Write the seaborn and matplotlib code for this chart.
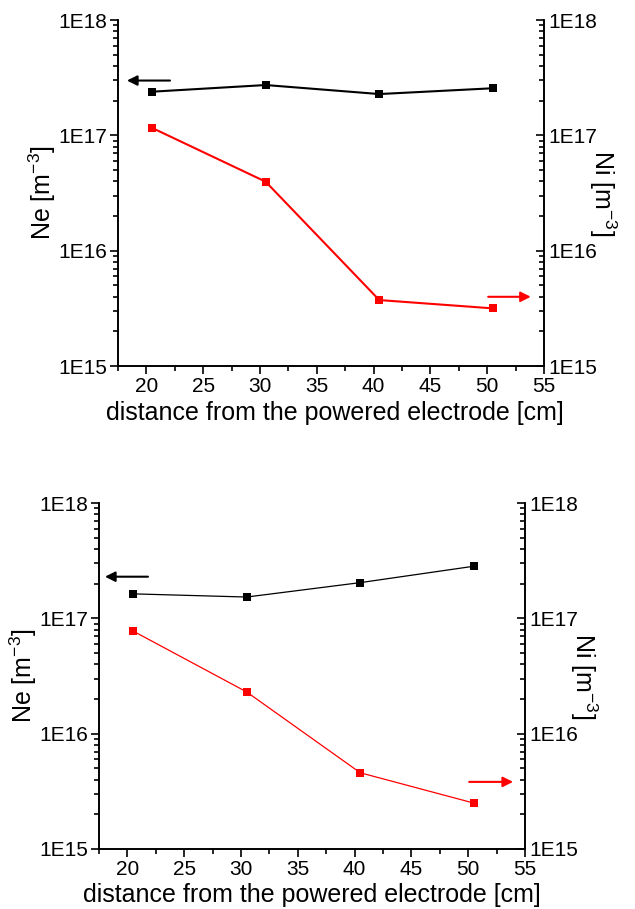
import matplotlib
matplotlib.use("Agg")
import matplotlib.pyplot as plt
import matplotlib.ticker as mticker
import numpy as np
import pandas as pd
import seaborn as sns

# distances [cm]
distance = [20.5, 30.5, 40.5, 50.5]

# top panel
ne_top = [2.39e17, 2.73e17, 2.28e17, 2.56e17]
ni_top = [1.16e17, 3.96e16, 3.73e15, 3.16e15]

# bottom panel
ne_bot = [1.63e17, 1.53e17, 2.04e17, 2.83e17]
ni_bot = [7.76e16, 2.30e16, 4.58e15, 2.50e15]

xticks = [20, 25, 30, 35, 40, 45, 50, 55]
yticks = [1e15, 1e16, 1e17, 1e18]

sns.set_style("ticks")
plt.rcParams['font.family'] = ['Liberation Sans', 'DejaVu Sans']
plt.rcParams['mathtext.fontset'] = 'custom'
plt.rcParams['mathtext.rm'] = 'Liberation Sans'
plt.rcParams['mathtext.it'] = 'Liberation Sans:italic'
plt.rcParams['text.color'] = 'black'
plt.rcParams['axes.labelcolor'] = 'black'
plt.rcParams['axes.edgecolor'] = 'black'
plt.rcParams['xtick.color'] = 'black'
plt.rcParams['ytick.color'] = 'black'


def fmt(v, pos):
    return "1E%d" % int(round(np.log10(v)))


def panel(rect, ne, ni, lw, arrows):
    ax = fig.add_axes(rect)
    ax2 = ax.twinx()
    df = pd.DataFrame({'x': distance, 'ne': ne, 'ni': ni})
    sns.lineplot(data=df, x='x', y='ne', ax=ax, color='black', marker='s',
                 markersize=5.5, markeredgewidth=0, linewidth=lw)
    sns.lineplot(data=df, x='x', y='ni', ax=ax2, color='red', marker='s',
                 markersize=5.5, markeredgewidth=0, linewidth=lw)
    for a in (ax, ax2):
        a.set_yscale('log')
        a.set_ylim(1e15, 1e18)
        a.set_yticks(yticks)
        a.yaxis.set_major_formatter(mticker.FuncFormatter(fmt))
        a.yaxis.set_minor_locator(mticker.LogLocator(base=10, subs=np.arange(2, 10)))
        a.yaxis.set_minor_formatter(mticker.NullFormatter())
    ax.set_xlim(17.5, 55)
    ax.set_xticks(xticks)
    ax.xaxis.set_minor_locator(mticker.MultipleLocator(2.5))
    for sp in ('left', 'right', 'bottom'):
        ax.spines[sp].set_linewidth(1.2)
        ax2.spines[sp].set_linewidth(1.2)
    ax.spines['top'].set_visible(False)
    ax2.spines['top'].set_visible(False)
    ax.tick_params(axis='both', which='major', direction='out', length=6, width=1.2,
                   labelsize=15, pad=2)
    ax.tick_params(axis='both', which='minor', direction='out', length=3.5, width=1.2)
    ax2.tick_params(axis='y', which='major', direction='in', length=6, width=1.2,
                    labelsize=15, pad=3)
    ax2.tick_params(axis='y', which='minor', direction='in', length=3.5, width=1.2)
    ax.set_xlabel('distance from the powered electrode [cm]', fontsize=18, labelpad=3)
    ax.set_ylabel('Ne [m$^{\\mathregular{-3}}$]', fontsize=18)
    ax2.set_ylabel('Ni [m$^{\\mathregular{-3}}$]', fontsize=18, rotation=-90)
    ax.yaxis.set_label_coords(-0.14, 0.5)
    ax2.yaxis.set_label_coords(1.175, 0.5)
    (bx0, bx1, by), (rx0, rx1, ry) = arrows
    ax.annotate('', xy=(bx0, by), xytext=(bx1, by), xycoords='axes fraction',
                arrowprops=dict(arrowstyle='-|>', color='black', lw=1.5,
                                mutation_scale=15, shrinkA=0, shrinkB=0))
    ax.annotate('', xy=(rx1, ry), xytext=(rx0, ry), xycoords='axes fraction',
                arrowprops=dict(arrowstyle='-|>', color='red', lw=1.5,
                                mutation_scale=15, shrinkA=0, shrinkB=0))
    return ax


fig = plt.figure(figsize=(6.35, 9.09), dpi=100)
top = panel([118 / 635, 1 - 366 / 909, 426 / 635, 346 / 909], ne_top, ni_top, 1.5,
            ((0.021, 0.122, 0.825), (0.869, 0.969, 0.200)))
top.xaxis.set_label_coords(0.51, -0.10)
panel([99 / 635, 1 - 849 / 909, 426 / 635, 346 / 909], ne_bot, ni_bot, 0.9,
      ((0.014, 0.115, 0.787), (0.869, 0.972, 0.194)))

fig.savefig('out.png', dpi=100)
